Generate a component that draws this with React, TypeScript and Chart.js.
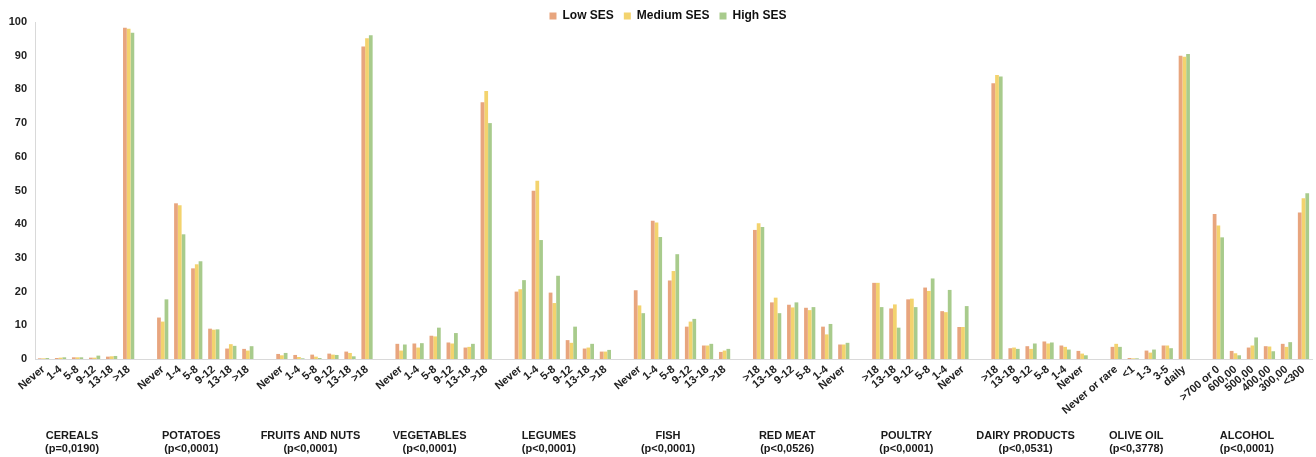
import React, { useEffect, useRef } from "react";
import { Chart, registerables } from "chart.js";

Chart.register(...registerables);

// ---------- data ----------
const groupNames = [
  "CEREALS",
  "POTATOES",
  "FRUITS AND NUTS",
  "VEGETABLES",
  "LEGUMES",
  "FISH",
  "RED MEAT",
  "POULTRY",
  "DAIRY PRODUCTS",
  "OLIVE OIL",
  "ALCOHOL",
];

const groupPValues = [
  "(p=0,0190)",
  "(p<0,0001)",
  "(p<0,0001)",
  "(p<0,0001)",
  "(p<0,0001)",
  "(p<0,0001)",
  "(p<0,0526)",
  "(p<0,0001)",
  "(p<0,0531)",
  "(p<0,3778)",
  "(p<0,0001)",
];

const subCategories = [
  ["Never", "1-4", "5-8", "9-12", "13-18", ">18"],
  ["Never", "1-4", "5-8", "9-12", "13-18", ">18"],
  ["Never", "1-4", "5-8", "9-12", "13-18", ">18"],
  ["Never", "1-4", "5-8", "9-12", "13-18", ">18"],
  ["Never", "1-4", "5-8", "9-12", "13-18", ">18"],
  ["Never", "1-4", "5-8", "9-12", "13-18", ">18"],
  [">18", "13-18", "9-12", "5-8", "1-4", "Never"],
  [">18", "13-18", "9-12", "5-8", "1-4", "Never"],
  [">18", "13-18", "9-12", "5-8", "1-4", "Never"],
  ["Never or rare", "<1", "1-3", "3-5", "daily"],
  [">700 or 0", "600,00", "500,00", "400,00", "300,00", "<300"],
];

const lowSES = [
  [0.2, 0.3, 0.5, 0.4, 0.7, 98.3],
  [12.3, 46.2, 26.9, 9.0, 3.1, 3.0],
  [1.5, 1.2, 1.3, 1.6, 2.2, 92.7],
  [4.5, 4.6, 6.9, 4.9, 3.4, 76.2],
  [20.0, 49.9, 19.7, 5.6, 3.1, 2.2],
  [20.4, 41.0, 23.3, 9.6, 4.0, 2.1],
  [38.3, 16.8, 16.1, 15.2, 9.6, 4.3],
  [22.6, 15.0, 17.7, 21.2, 14.2, 9.5],
  [81.8, 3.2, 3.8, 5.2, 4.0, 2.4],
  [3.6, 0.3, 2.5, 4.0, 90.0],
  [43.0, 2.4, 3.4, 3.8, 4.5, 43.5],
];

const mediumSES = [
  [0.2, 0.4, 0.5, 0.4, 0.8, 98.0],
  [11.1, 45.6, 28.1, 8.7, 4.4, 2.5],
  [1.1, 0.6, 0.7, 1.3, 1.8, 95.2],
  [2.5, 3.4, 6.7, 4.6, 3.6, 79.5],
  [20.7, 52.9, 16.6, 4.8, 3.4, 2.2],
  [15.9, 40.5, 26.1, 11.1, 4.0, 2.5],
  [40.3, 18.2, 15.3, 14.5, 7.3, 4.3],
  [22.6, 16.2, 17.9, 20.2, 13.9, 9.5],
  [84.3, 3.4, 3.0, 4.6, 3.6, 1.6],
  [4.5, 0.2, 1.9, 4.0, 89.7],
  [39.6, 1.7, 4.0, 3.7, 3.6, 47.7],
];

const highSES = [
  [0.3, 0.5, 0.5, 1.0, 0.9, 96.8],
  [17.7, 37.0, 29.0, 8.8, 3.9, 3.8],
  [1.8, 0.2, 0.3, 1.2, 0.8, 96.1],
  [4.3, 4.7, 9.3, 7.7, 4.5, 70.0],
  [23.4, 35.3, 24.7, 9.6, 4.5, 2.7],
  [13.6, 36.2, 31.1, 11.9, 4.5, 3.0],
  [39.2, 13.6, 16.8, 15.4, 10.4, 4.8],
  [15.4, 9.3, 15.4, 23.9, 20.5, 15.7],
  [83.8, 3.0, 4.6, 4.9, 2.8, 1.1],
  [3.6, 0.2, 2.8, 3.2, 90.5],
  [36.1, 1.1, 6.4, 2.3, 5.0, 49.2],
];

const seriesNames = ["Low SES", "Medium SES", "High SES"];
const seriesColors = ["#E8A57E", "#F3D36E", "#A8CB8C"];
const yTicks = [0, 10, 20, 30, 40, 50, 60, 70, 80, 90, 100];

const FONT = "'Liberation Sans', Arial, Helvetica, sans-serif";

// ---------- build flat category axis with gap slots ----------
function buildAxis() {
  const labels: string[] = [];
  const groupRanges: { start: number; end: number }[] = [];
  const flat = [[], [], []] as (number | null)[][];
  const all = [lowSES, mediumSES, highSES];
  subCategories.forEach((cats, g) => {
    if (g > 0) {
      labels.push("");
      flat.forEach((f) => f.push(null));
    }
    const start = labels.length;
    cats.forEach((c, i) => {
      labels.push(c);
      all.forEach((s, k) => flat[k].push(s[g][i]));
    });
    groupRanges.push({ start, end: labels.length - 1 });
  });
  return { labels, flat, groupRanges };
}

export default function App() {
  const canvasRef = useRef<HTMLCanvasElement | null>(null);

  useEffect(() => {
    const { labels, flat, groupRanges } = buildAxis();

    const groupLabelPlugin = {
      id: "groupLabels",
      afterLayout(chart: any) {
        // centre the legend over the plot area rather than the whole canvas
        if (chart.legend) {
          chart.legend.left += 12;
          chart.legend.right += 12;
        }
      },
      afterDraw(chart: any) {
        const ctx = chart.ctx;
        const x = chart.scales.x;
        ctx.save();
        ctx.fillStyle = "#1a1a1a";
        ctx.textAlign = "center";
        ctx.textBaseline = "middle";
        ctx.font = `bold 11px ${FONT}`;
        groupRanges.forEach((r, g) => {
          const cx =
            (x.getPixelForValue(r.start) + x.getPixelForValue(r.end)) / 2 - 14;
          ctx.fillText(groupNames[g], cx, 436);
          ctx.fillText(groupPValues[g], cx, 449);
        });
        ctx.restore();
      },
    };

    const chart = new Chart(canvasRef.current as HTMLCanvasElement, {
      type: "bar",
      data: {
        labels,
        datasets: seriesNames.map((name, k) => ({
          label: name,
          data: flat[k],
          backgroundColor: seriesColors[k],
          borderWidth: 0,
          categoryPercentage: 0.66,
          barPercentage: 1.0,
        })),
      },
      options: {
        responsive: false,
        animation: false,
        layout: { padding: { left: 0, right: 4, top: 0, bottom: 0 } },
        plugins: {
          legend: {
            position: "top",
            maxHeight: 22,
            labels: {
              boxWidth: 7,
              boxHeight: 7,
              padding: 10,
              color: "#111",
              font: { family: FONT, size: 12, weight: "bold" },
            },
          },
          tooltip: { enabled: false },
        },
        scales: {
          x: {
            grid: { display: false, drawTicks: false },
            border: { display: true, color: "#d9d9d9", width: 1 },
            ticks: {
              autoSkip: false,
              minRotation: 40,
              maxRotation: 40,
              padding: 4,
              color: "#222",
              font: { family: FONT, size: 11, weight: "bold" },
            },
            afterFit(scale: any) {
              scale.height = 98;
            },
          },
          y: {
            min: 0,
            max: 100,
            afterBuildTicks(scale: any) {
              scale.ticks = yTicks.map((v) => ({ value: v }));
            },
            grid: { display: false, drawTicks: false },
            border: { display: true, color: "#d9d9d9", width: 1 },
            ticks: {
              padding: 8,
              color: "#222",
              font: { family: FONT, size: 11, weight: "bold" },
            },
            afterFit(scale: any) {
              scale.width = 35;
            },
          },
        },
      },
      plugins: [groupLabelPlugin],
    } as any);

    return () => chart.destroy();
  }, []);

  return (
    <div style={{ position: "fixed", left: 0, top: 0, width: 1316, height: 457, background: "#fff" }}>
      <canvas ref={canvasRef} width={1316} height={457} />
    </div>
  );
}
